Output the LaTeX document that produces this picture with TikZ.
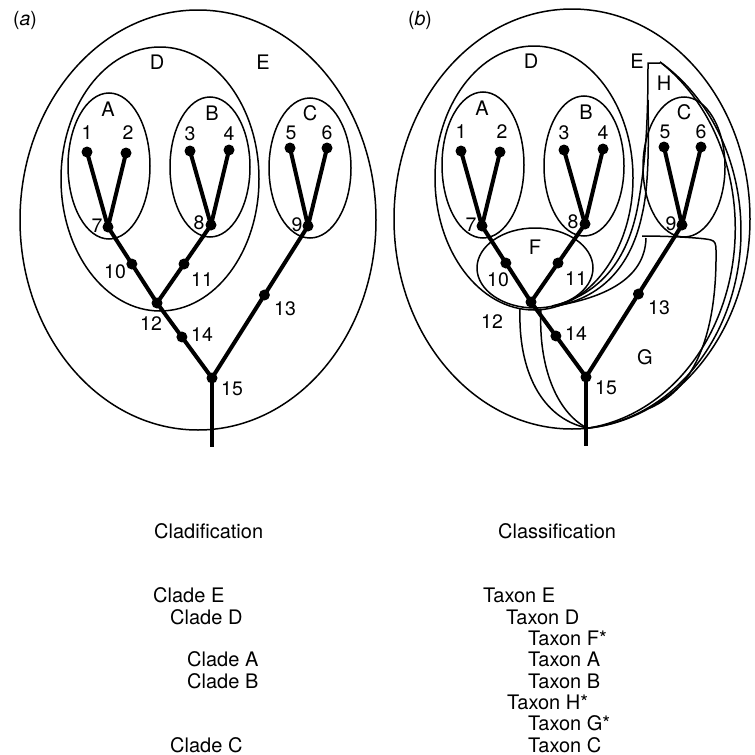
\documentclass[tikz,border=0pt]{standalone}
\usepackage{fontspec}
\setmainfont{TeX Gyre Heros}
\usetikzlibrary{calc}
\tikzset{
  dot/.style={circle,fill=black,inner sep=0pt,minimum size=11pt},
  branch/.style={line width=4pt},
  outline/.style={line width=1.5pt},
  num/.style={font=\fontsize{19.5}{19.5}\selectfont,inner sep=0pt},
  grp/.style={font=\fontsize{20}{20}\selectfont,inner sep=0pt},
  txt/.style={font=\fontsize{20}{20}\selectfont,inner sep=0pt,anchor=base west},
}
\newcommand{\cladetree}[1]{%
  \node[dot] (#1n1) at (87,152) {};
  \node[dot] (#1n2) at (126,153) {};
  \node[dot] (#1n3) at (190,151) {};
  \node[dot] (#1n4) at (229,150) {};
  \node[dot] (#1n5) at (290,148) {};
  \node[dot] (#1n6) at (327,148) {};
  \node[dot] (#1n7) at (108,227) {};
  \node[dot] (#1n8) at (211,225) {};
  \node[dot] (#1n9) at (308,226) {};
  \node[dot] (#1n12) at (157,303) {};
  \node[dot] (#1n15) at (212,378) {};
  \coordinate (#1root) at (212,447);
  \node[dot] (#1n10) at ($(#1n7.center)!0.487!(#1n12.center)$) {};
  \node[dot] (#1n11) at ($(#1n8.center)!0.5!(#1n12.center)$) {};
  \node[dot] (#1n13) at ($(#1n9.center)!0.454!(#1n15.center)$) {};
  \node[dot] (#1n14) at ($(#1n12.center)!0.453!(#1n15.center)$) {};
  \draw[branch] (#1n7.center) -- (#1n1.center);
  \draw[branch] (#1n7.center) -- (#1n2.center);
  \draw[branch] (#1n8.center) -- (#1n3.center);
  \draw[branch] (#1n8.center) -- (#1n4.center);
  \draw[branch] (#1n9.center) -- (#1n5.center);
  \draw[branch] (#1n9.center) -- (#1n6.center);
  \draw[branch] (#1n7.center) -- (#1n12.center);
  \draw[branch] (#1n8.center) -- (#1n12.center);
  \draw[branch] (#1n12.center) -- (#1n15.center);
  \draw[branch] (#1n9.center) -- (#1n15.center);
  \draw[branch] (#1n15.center) -- (#1root);
  \draw[outline] (198,220) ellipse[x radius=178,y radius=210];
  \draw[outline] (160,179) ellipse[x radius=99,y radius=132];
  \draw[outline] (109,166) ellipse[x radius=41,y radius=73];
  \draw[outline] (210,167) ellipse[x radius=40,y radius=70];
  \draw[outline] (310,168) ellipse[x radius=41,y radius=70];
  \node[num] (#1l1) at (87,133) {1};
  \node[num] (#1l2) at (128,133) {2};
  \node[num] (#1l3) at (190,134) {3};
  \node[num] (#1l4) at (229,134) {4};
  \node[num] (#1l5) at (291,133) {5};
  \node[num] (#1l6) at (327,133) {6};
  \node[num] (#1l7) at (97,226) {7};
  \node[num] (#1l8) at (199,223) {8};
  \node[num] (#1l9) at (297,225) {9};
  \node[num] (#1l11) at (202,280) {11};
  \node[num] (#1l13) at (285,309) {13};
  \node[num] (#1l14) at (202,335) {14};
  \node[num] (#1l15) at (232,389) {15};
  \node[grp] (#1gA) at (108,109) {A};
  \node[grp] (#1gB) at (212,113) {B};
  \node[grp] (#1gC) at (310,113) {C};
  \node[grp] (#1gD) at (157,62) {D};
  \node[grp] (#1gE) at (263,62) {E};
}
\begin{document}
\begin{tikzpicture}[x=1pt,y=-1pt]
\useasboundingbox (0,0) rectangle (755,755);
% panel (a)
\node[num] (pa) at (25,20) {(\textit{a})};
\cladetree{a}
\node[num] (al10) at (115,272) {10};
\node[num] (al12) at (151,324) {12};
% panel (b)
\node[num] (pb) at (420,20) {(\textit{b})};
\begin{scope}[shift={(374,-1)}]
\cladetree{b}
\end{scope}
\node[num] (bl10) at (498,280) {10};
\node[num] (bl12) at (492,322) {12};
\node[grp] (bgF) at (535,247) {F};
\node[grp] (bgG) at (645,357) {G};
\node[grp] (bgH) at (664,83) {H};
% F
\draw[outline] (535,268) ellipse[x radius=58,y radius=40];
% H
\draw[outline] (660,63) -- (648,63) .. controls (648,120) and (646,160) .. (638,205) .. controls (628,260) and (600,295) .. (552,306);
\draw[outline] (648,100) .. controls (649,155) and (648,190) .. (642,215) .. controls (632,262) and (606,296) .. (557,306);
\draw[outline] (520,309) .. controls (518,370) and (541,418) .. (587,428);
\draw[outline] plot[domain=-58.6:84.9,samples=80,smooth] ({572+169*cos(\x)},{231+198*sin(\x)});
\draw[outline] plot[domain=-58.6:84.9,samples=80,smooth] ({572+(169-6*sin(1.2544*(\x+58.6)))*cos(\x)},{231+(198-6*sin(1.2544*(\x+58.6)))*sin(\x)});
% G
\draw[outline] (541,309) .. controls (538,365) and (556,412) .. (587,428);
\draw[outline] (555,306) .. controls (602,298) and (645,280) .. (646,238);
\draw[outline] (642,236) .. controls (670,236) and (705,238) .. (711,240) .. controls (715,241) and (716,244) .. (716,250) .. controls (717,330) and (697,387) .. (650,408);
% texts
\node[txt] (t0) at (154,538) {Cladification};
\node[txt] (c1) at (153,602) {Clade E};
\node[txt] (c2) at (170,624) {Clade D};
\node[txt] (c3) at (187,666) {Clade A};
\node[txt] (c4) at (187,688) {Clade B};
\node[txt] (c5) at (170,752) {Clade C};
\node[txt] (s0) at (498,538) {Classification};
\node[txt] (x1) at (483,602) {Taxon E};
\node[txt] (x2) at (506,624) {Taxon D};
\node[txt] (x3) at (528,645) {Taxon F*};
\node[txt] (x4) at (528,666) {Taxon A};
\node[txt] (x5) at (528,688) {Taxon B};
\node[txt] (x6) at (507,709) {Taxon H*};
\node[txt] (x7) at (528,730) {Taxon G*};
\node[txt] (x8) at (528,752) {Taxon C};
\end{tikzpicture}
\end{document}
